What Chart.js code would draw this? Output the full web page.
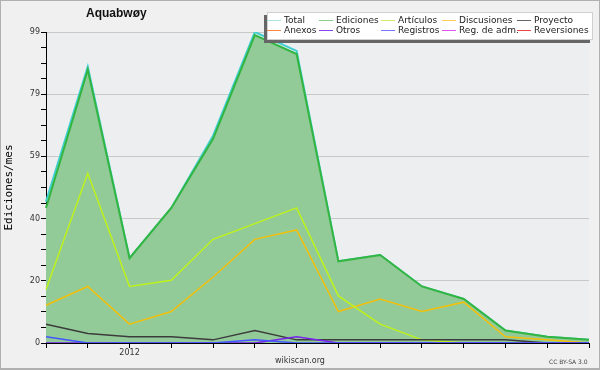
<!DOCTYPE html>
<html>
<head>
<meta charset="utf-8">
<script src="https://cdn.jsdelivr.net/npm/chart.js@4/dist/chart.umd.min.js"></script>
<style>
  html, body { margin: 0; padding: 0; background: #f0f0f0; }
  #wrap { position: relative; width: 600px; height: 370px; font-family: 'DejaVu Sans', sans-serif; }
  #frame { position: absolute; left: 0; top: 0; width: 600px; height: 370px; box-sizing: border-box;
           border: 1px solid #b0b0b0; border-bottom-width: 2px; pointer-events: none; }
  #title { position: absolute; left: 86px; top: 6px; font: bold 12px 'Liberation Sans', sans-serif; color: #111; }
  #legend { position: absolute; left: 267px; top: 12px; width: 326px; height: 28px; background: #fff;
            border: 1px solid #d0d0d0; box-sizing: border-box; box-shadow: -3px 3px 0 #666; }
  .item { position: absolute; font-size: 9px; color: #222; line-height: 10px; white-space: nowrap; }
  .item i { position: absolute; top: 5px; width: 14px; height: 1px; }
  .item span { position: absolute; left: 17px; top: 0; }
  #site { position: absolute; left: 0; width: 600px; top: 356px; text-align: center; font-size: 8px; color: #333; }
  #lic { position: absolute; left: 549px; top: 358px; font-size: 6px; color: #444; }
</style>
</head>
<body>
<div id="wrap">
  <canvas id="chart" width="600" height="370"></canvas>
  <div id="title">Aquabwøy</div>
  <div id="legend"></div>
  <div id="site">wikiscan.org</div>
  <div id="lic">CC BY-SA 3.0</div>
  <div id="frame"></div>
</div>
<script>
// months Nov 2011 .. Dec 2012
const months = ['2011-11','2011-12','2012-01','2012-02','2012-03','2012-04','2012-05',
                '2012-06','2012-07','2012-08','2012-09','2012-10','2012-11','2012-12'];

const total       = [45, 88, 27, 43, 66, 99, 93, 26, 28, 18, 14, 4, 2, 1];
const ediciones   = [43, 87, 27, 43, 65, 98, 92, 26, 28, 18, 14, 4, 2, 1];
const articulos   = [17, 54, 18, 20, 33, 38, 43, 15, 6, 1, 0, 0, 0, 0];
const discusiones = [12, 18, 6, 10, 21, 33, 36, 10, 14, 10, 13, 2, 1, 0];
const proyecto    = [6, 3, 2, 2, 1, 4, 1, 1, 1, 1, 1, 1, 0, 0];
const otros       = [0, 0, 0, 0, 0, 0, 2, 0, 0, 0, 0, 0, 0, 0];
const registros   = [2, 0, 0, 0, 0, 1, 0, 0, 0, 0, 0, 0, 0, 0];
const anexos      = [];
const regAdm      = [];
const reversiones = [];

const yMax = 99;

// order: higher is drawn first (underneath)
const series = [
  { label: 'Total',        data: total,       color: '#3fcfcf', width: 2,   order: 11, legend: '#a8e4e4' },
  { label: 'Ediciones',    data: ediciones,   color: '#33b542', width: 2,   order: 10, legend: '#88cc88', fill: '#92cb98' },
  { label: 'Artículos',    data: articulos,   color: '#bff21a', width: 1.5, order: 5, legend: '#ccee66' },
  { label: 'Discusiones',  data: discusiones, color: '#f2c00c', width: 1.5, order: 6, legend: '#ffcc55' },
  { label: 'Proyecto',     data: proyecto,    color: '#3c3c3c', width: 1.5, order: 4, legend: '#666666' },
  { label: 'Anexos',       data: anexos,      color: '#ff7733', width: 1.5, order: 3, legend: '#ff8844' },
  { label: 'Otros',        data: otros,       color: '#7a22ee', width: 1.5, order: 2, legend: '#8844ee' },
  { label: 'Registros',    data: registros,   color: '#4455ff', width: 1.5, order: 1, legend: '#7777ff' },
  { label: 'Reg. de adm.', data: regAdm,      color: '#cc33dd', width: 1.5, order: 1, legend: '#dd55ee' },
  { label: 'Reversiones',  data: reversiones, color: '#ee2222', width: 1.5, order: 1, legend: '#ee4444' }
];

// legend, 5 columns x 2 rows
const colX = [267, 319, 381, 442, 517];
const legendEl = document.getElementById('legend');
series.forEach((s, i) => {
  const col = i % 5, row = Math.floor(i / 5);
  const d = document.createElement('div');
  d.className = 'item';
  d.style.left = (colX[col] - 268) + 'px';
  d.style.top = (row === 0 ? 2 : 12) + 'px';
  d.innerHTML = '<i style="background:' + s.legend + '"></i><span>' + s.label + '</span>';
  legendEl.appendChild(d);
});

const plotBg = {
  id: 'plotBg',
  beforeDraw(chart) {
    const a = chart.chartArea, ctx = chart.ctx;
    ctx.save();
    ctx.fillStyle = '#edeef0';
    ctx.fillRect(a.left, a.top, a.right - a.left, a.bottom - a.top);
    ctx.restore();
  }
};

Chart.defaults.font.family = "'DejaVu Sans', sans-serif";

new Chart(document.getElementById('chart'), {
  type: 'line',
  data: {
    labels: months,
    datasets: series.map(s => ({
      label: s.label,
      data: s.data,
      borderColor: s.color,
      borderWidth: s.width,
      backgroundColor: s.fill || s.color,
      fill: s.fill ? 'origin' : false,
      order: s.order,
      pointRadius: 0,
      tension: 0
    }))
  },
  options: {
    responsive: false,
    animation: false,
    events: [],
    layout: { padding: { top: 32, right: 11, bottom: 7, left: 0 } },
    plugins: { legend: { display: false }, title: { display: false }, tooltip: { enabled: false } },
    scales: {
      x: {
        z: 1,
        offset: false,
        border: { color: '#000', width: 1 },
        grid: { drawOnChartArea: false, tickLength: 5, tickColor: '#000' },
        ticks: {
          autoSkip: false, maxRotation: 0, padding: 0, color: '#333', font: { size: 8 },
          callback: (v, i) => months[i] === '2012-01' ? '2012' : ''
        },
        afterFit(s) { s.height = 20; }
      },
      y: {
        z: 1,
        min: 0,
        max: yMax,
        border: { color: '#000', width: 1 },
        afterBuildTicks(s) {
          const t = [];
          for (let i = 0; i <= 20; i++) t.push({ value: yMax * i / 20 });
          s.ticks = t;
        },
        grid: {
          tickLength: 5,
          tickColor: '#000',
          color: c => (c.index % 4 === 0 && c.index > 0) ? '#c8c8c8' : 'rgba(0,0,0,0)'
        },
        ticks: {
          autoSkip: false, padding: 1, color: '#333', font: { size: 8 },
          callback: (v, i) => i % 4 === 0 ? String(Math.round(v)) : ''
        },
        title: {
          display: true, text: 'Ediciones/mes', color: '#000',
          font: { family: "'DejaVu Sans Mono', monospace", size: 11 },
          padding: { top: 3, bottom: 0 }
        },
        afterFit(s) { s.width = 46; }
      }
    }
  },
  plugins: [plotBg]
});
</script>
</body>
</html>
